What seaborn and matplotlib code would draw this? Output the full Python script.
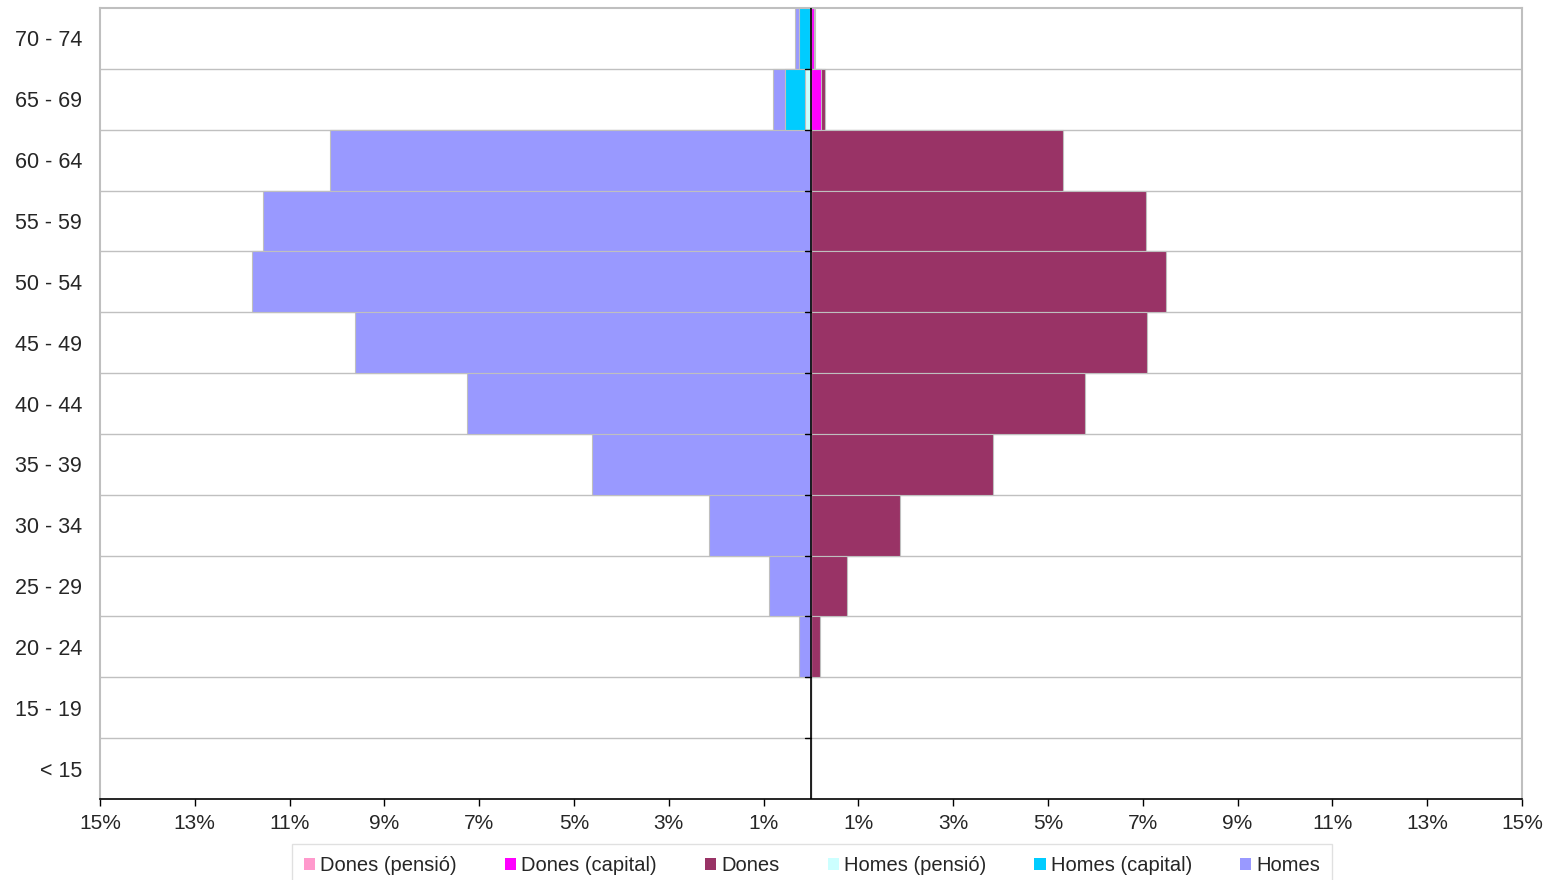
import numpy as np
import pandas as pd
import seaborn as sns
import matplotlib.pyplot as plt
from matplotlib.patches import Patch

# age bands, top to bottom
ages = ["70 - 74", "65 - 69", "60 - 64", "55 - 59", "50 - 54", "45 - 49", "40 - 44",
        "35 - 39", "30 - 34", "25 - 29", "20 - 24", "15 - 19", "< 15"]

# percentages (men shown on the left as negatives)
homes = [-0.34, -0.80, -10.15, -11.56, -11.79, -9.62, -7.26, -4.62, -2.15, -0.89, -0.25, 0, 0]
homes_capital = [-0.25, -0.55, 0, 0, 0, 0, 0, 0, 0, 0, 0, 0, 0]
homes_pensio = [-0.02, -0.13, 0, 0, 0, 0, 0, 0, 0, 0, 0, 0, 0]
dones = [0.09, 0.29, 5.32, 7.07, 7.49, 7.09, 5.78, 3.84, 1.88, 0.76, 0.19, 0, 0]
dones_capital = [0.07, 0.21, 0, 0, 0, 0, 0, 0, 0, 0, 0, 0, 0]
dones_pensio = [0, 0, 0, 0, 0, 0, 0, 0, 0, 0, 0, 0, 0]

xticks = [-15, -13, -11, -9, -7, -5, -3, -1, 1, 3, 5, 7, 9, 11, 13, 15]

colors = {
    "Dones (pensió)": "#FF99CC",
    "Dones (capital)": "#FF00FF",
    "Dones": "#993366",
    "Homes (pensió)": "#CCFFFF",
    "Homes (capital)": "#00CCFF",
    "Homes": "#9999FF",
}

sns.set_style("white")
plt.rcParams["font.family"] = ["Liberation Sans", "DejaVu Sans"]

fig = plt.figure(figsize=(15.49, 8.8), dpi=100)
ax = fig.add_axes([100 / 1549, 1 - 799 / 880, 1422 / 1549, 791 / 880])

# bars overlap: totals first, sub-series drawn on top
series = [
    (homes, "Homes"), (homes_capital, "Homes (capital)"), (homes_pensio, "Homes (pensió)"),
    (dones, "Dones"), (dones_capital, "Dones (capital)"), (dones_pensio, "Dones (pensió)"),
]
for vals, name in series:
    df = pd.DataFrame({"age": ages, "pct": vals})
    sns.barplot(data=df, x="pct", y="age", order=ages, color=colors[name],
                saturation=1, width=1.0, errorbar=None, edgecolor="#BFBFBF",
                linewidth=0.8, ax=ax, zorder=2)

ax.set_xlim(-15, 15)
ax.set_ylim(len(ages) - 0.5, -0.5)

# horizontal gridlines at category boundaries, small ticks on the centre axis
for b in np.arange(-0.5, len(ages) - 0.5, 1.0)[1:]:
    ax.axhline(b, color="#C0C0C0", lw=1, zorder=1)
    ax.plot([-0.12, 0], [b, b], color="black", lw=1, zorder=4)

ax.axvline(0, color="black", lw=1.2, zorder=4)

ax.set_xticks(xticks)
ax.set_xticklabels([f"{abs(t)}%" for t in xticks], fontsize=15)
ax.tick_params(axis="x", direction="out", length=5, width=1, color="black", pad=6, bottom=True)
ax.tick_params(axis="y", length=0, pad=13, labelsize=15.5)
ax.set_xlabel("")
ax.set_ylabel("")

for s in ["top", "left", "right"]:
    ax.spines[s].set_color("#BFBFBF")
    ax.spines[s].set_linewidth(1.5)
ax.spines["bottom"].set_color("black")
ax.spines["bottom"].set_linewidth(1.2)

legend_order = ["Dones (pensió)", "Dones (capital)", "Dones",
                "Homes (pensió)", "Homes (capital)", "Homes"]
handles = [Patch(facecolor=colors[n], edgecolor="none", label=n) for n in legend_order]
leg = fig.legend(handles=handles, loc="upper center", bbox_to_anchor=(812 / 1549, 1 - 844 / 880),
                 ncol=6, fontsize=14.5, frameon=True, fancybox=False, handlelength=0.55,
                 handleheight=0.55, handletextpad=0.25, columnspacing=2.4, borderpad=0.6,
                 borderaxespad=0)
leg.get_frame().set_edgecolor("#D9D9D9")
leg.get_frame().set_linewidth(1)

fig.savefig("out.png", dpi=100)
